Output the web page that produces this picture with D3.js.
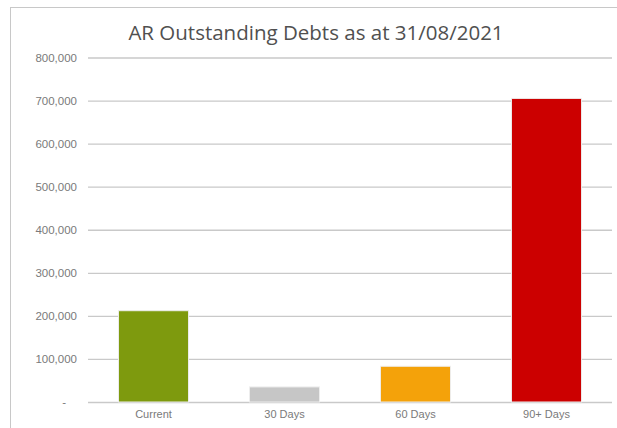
<!DOCTYPE html>
<html>
<head>
<meta charset="utf-8">
<script src="https://cdn.jsdelivr.net/npm/d3@7"></script>
<style>
  html, body { margin: 0; padding: 0; background: #fff; overflow: hidden; }
  svg { display: block; }
</style>
</head>
<body>
<script>
// Ageing buckets and outstanding balances
const categories = ["Current", "30 Days", "60 Days", "90+ Days"];
const debts = [212000, 35000, 83000, 705000];
const barColors = ["#7e9a0e", "#c6c6c6", "#f4a20a", "#cc0000"];
const yTicks = [0, 100000, 200000, 300000, 400000, 500000, 600000, 700000, 800000];
const title = "AR Outstanding Debts as at 31/08/2021";

const W = 617, H = 428;
const plot = { left: 88, right: 612, top: 57.5, bottom: 402 };

const svg = d3.select("body").append("svg")
  .attr("width", W).attr("height", H);

// chart frame
svg.append("rect")
  .attr("x", 10.5).attr("y", 7.5)
  .attr("width", 700).attr("height", 500)
  .attr("fill", "none").attr("stroke", "#c8c8c8").attr("stroke-width", 1);

const x = d3.scaleBand()
  .domain(categories)
  .range([plot.left, plot.right])
  .paddingInner(0.465).paddingOuter(0.2325);

const y = d3.scaleLinear()
  .domain([0, 800000])
  .range([plot.bottom, plot.top]);

const fmt = d3.format(",");

// value axis with gridlines
const yAxis = d3.axisLeft(y)
  .tickValues(yTicks)
  .tickSize(-(plot.right - plot.left))
  .tickPadding(11)
  .tickFormat(d => d === 0 ? "-" : fmt(d));

const gy = svg.append("g")
  .attr("transform", `translate(${plot.left},0)`)
  .call(yAxis);
gy.select(".domain").remove();
gy.selectAll(".tick line")
  .attr("stroke", "#c9c9c9").attr("stroke-width", 1.3);
gy.selectAll(".tick text")
  .attr("fill", "#7a7a7a")
  .style("font-family", "'Liberation Sans', Arial, sans-serif")
  .style("font-size", "11.5px")
  .attr("dx", d => d === 0 ? -11 : 0);

// bars
svg.append("g").selectAll("rect")
  .data(categories)
  .join("rect")
  .attr("x", d => x(d))
  .attr("width", x.bandwidth())
  .attr("y", (d, i) => y(debts[i]))
  .attr("height", (d, i) => y(0) - y(debts[i]))
  .attr("fill", (d, i) => barColors[i])
  .attr("stroke", "#eeeeee").attr("stroke-width", 1);

// category axis
const gx = svg.append("g")
  .attr("transform", `translate(0,${plot.bottom})`)
  .call(d3.axisBottom(x).tickSize(0).tickPadding(8));
gx.select(".domain").remove();
gx.selectAll(".tick text")
  .attr("fill", "#7a7a7a")
  .style("font-family", "'Liberation Sans', Arial, sans-serif")
  .style("font-size", "11px");

// title
svg.append("text")
  .attr("x", 316).attr("y", 40)
  .attr("text-anchor", "middle")
  .attr("fill", "#505050")
  .style("font-family", "'Open Sans', 'Noto Sans', sans-serif")
  .style("font-size", "20.5px")
  .text(title);
</script>
</body>
</html>
